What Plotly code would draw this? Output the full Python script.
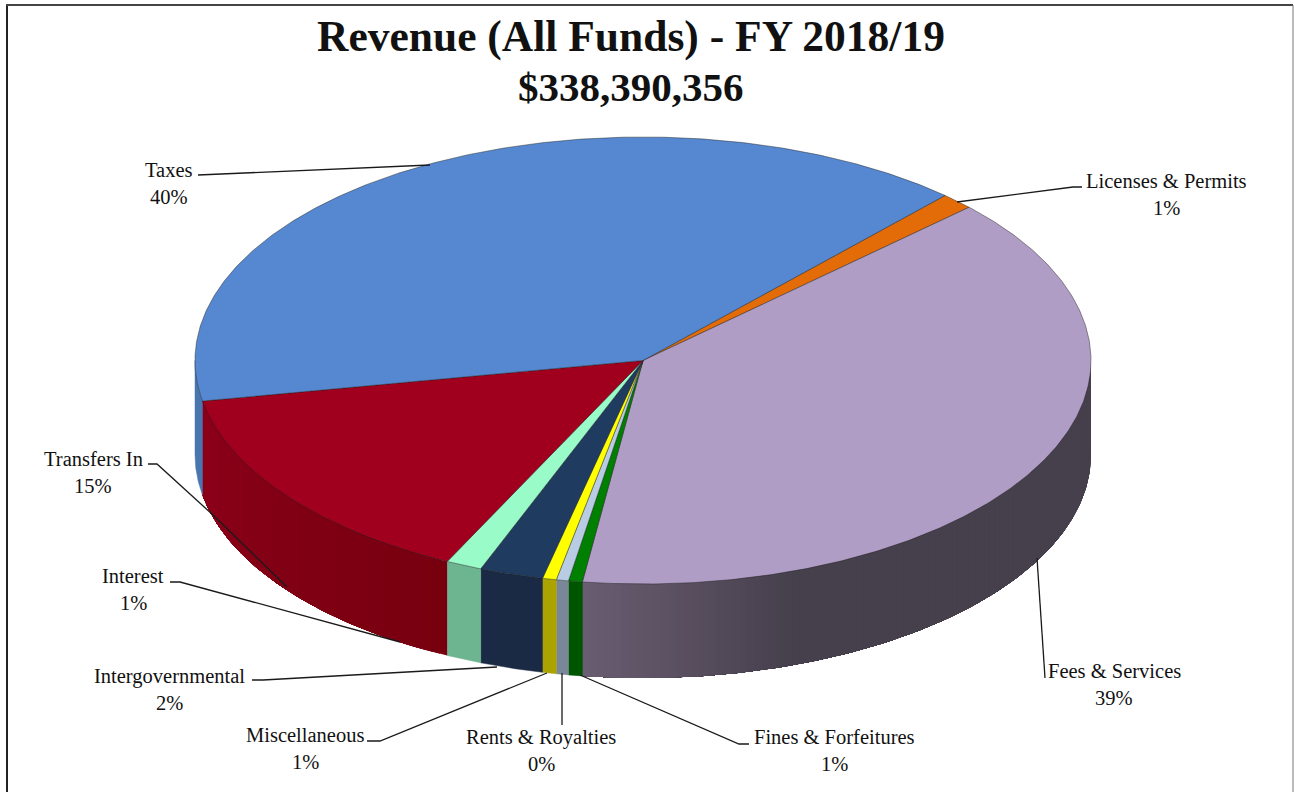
import math
import plotly.graph_objects as go

# ---- data (clockwise from the Licenses slice) ----
categories = ["Licenses & Permits", "Fees & Services", "Fines & Forfeitures", "Rents & Royalties",
              "Miscellaneous", "Intergovernmental", "Interest", "Transfers In", "Taxes"]
shares = [1.2, 39.2, 0.5, 0.44, 0.5, 2.3, 1.3, 14.9, 39.7]
percent_labels = ["1%", "39%", "1%", "0%", "1%", "2%", "1%", "15%", "40%"]
title_lines = ["Revenue (All Funds) - FY 2018/19", "$338,390,356"]

# ---- styling and layout ----
W, H = 1294, 792
CX, CY, RX, RY, DEPTH = 643, 360.5, 448, 223.5, 94
START = 42.4
top_colors = ["#e36c09", "#b09dc5", "#008000", "#b8cce4", "#ffff00", "#1f3b60", "#99fcc8", "#a0001e", "#5588d0"]
wall_colors = [("#b05407",) * 2, ("#6a5e72", "#463f4c"), ("#005500",) * 2, ("#7a8798",) * 2,
               ("#aaa300",) * 2, ("#1a2a44",) * 2, ("#6db491",) * 2, ("#77000f", "#8c0019"), ("#4a76b0",) * 2]
FEES_GRADIENT_SPAN = 28
label_xy = {"Licenses & Permits": (1166, 181), "Fees & Services": (1114, 671), "Fines & Forfeitures": (834, 737),
            "Rents & Royalties": (541, 737), "Miscellaneous": (305, 735), "Intergovernmental": (169, 676),
            "Interest": (133, 576), "Transfers In": (93, 459), "Taxes": (169, 170)}
leaders = [
    [(198, 175), (430, 165)],
    [(1082, 187), (1073, 187), (957, 202)],
    [(1037, 558), (1045, 678)],
    [(749, 744), (739, 744), (580, 675)],
    [(562, 673), (562, 725)],
    [(367, 741), (380, 741), (547, 673)],
    [(252, 680), (263, 680), (497, 667)],
    [(170, 582), (180, 582), (400, 642)],
    [(148, 464), (157, 464), (213, 515), (287, 587)],
]
FONT = "Liberation Serif"
LABEL_SIZE = 20.5
title_sizes = [43.5, 41]


def pt(theta, drop=0):
    a = math.radians(theta)
    return CX + RX * math.sin(a), CY - RY * math.cos(a) + drop


def mix(c1, c2, t):
    a = [int(c1[i:i + 2], 16) for i in (1, 3, 5)]
    b = [int(c2[i:i + 2], 16) for i in (1, 3, 5)]
    return "rgb(%d,%d,%d)" % tuple(round(p + (q - p) * t) for p, q in zip(a, b))


def arc(t0, t1, drop=0):
    n = max(2, int(abs(t1 - t0) * 2))
    return [pt(t0 + (t1 - t0) * i / n, drop) for i in range(n + 1)]


def poly(points, fill, line, width):
    xs, ys = zip(*points)
    return go.Scatter(x=list(xs) + [xs[0]], y=list(ys) + [ys[0]], mode="lines", fill="toself",
                      fillcolor=fill, line=dict(color=line, width=width), hoverinfo="skip", showlegend=False)


total = sum(shares)
edges = [START]
for s in shares:
    edges.append(edges[-1] + s / total * 360)

fig = go.Figure()

# walls (only the front half, 90..270 degrees, is visible)
for i, name in enumerate(categories):
    a, b = max(edges[i], 90), min(edges[i + 1], 270)
    if a >= b:
        continue
    c0, c1 = wall_colors[i]
    if c0 == c1:
        fig.add_trace(poly(arc(a, b) + arc(b, a, DEPTH), c0, c0, 0.5))
    else:
        # overlapping bands painted one on top of the next, so no seams show
        steps = int(b - a)
        for k in range(steps):
            t0 = a + (b - a) * k / steps
            if name == "Fees & Services":
                f = min(1, (b - t0) / FEES_GRADIENT_SPAN)
            else:
                f = (t0 - a) / (b - a)
            col = mix(c0, c1, f)
            fig.add_trace(poly(arc(t0, b) + arc(b, t0, DEPTH), col, col, 0))

# top faces
for i in range(len(categories)):
    pts = [(CX, CY)] + arc(edges[i], edges[i + 1])
    fig.add_trace(poly(pts, top_colors[i], "rgba(30,30,30,0.75)", 0.6))

# leader lines
for path in leaders:
    xs, ys = zip(*path)
    fig.add_trace(go.Scatter(x=xs, y=ys, mode="lines", line=dict(color="#1a1a1a", width=1.3),
                             hoverinfo="skip", showlegend=False))

ann = []
for name, pct in zip(categories, percent_labels):
    x, y = label_xy[name]
    ann.append(dict(x=x, y=y, text=name, showarrow=False, xanchor="center", yanchor="middle",
                    font=dict(family=FONT, size=LABEL_SIZE, color="#111111")))
    ann.append(dict(x=x, y=y + 27, text=pct, showarrow=False, xanchor="center", yanchor="middle",
                    font=dict(family=FONT, size=LABEL_SIZE, color="#111111")))
for line, y, size in zip(title_lines, (36, 87), title_sizes):
    ann.append(dict(x=631, y=y, text="<b>%s</b>" % line, showarrow=False, xanchor="center", yanchor="middle",
                    font=dict(family=FONT, size=size, color="#111111")))

fig.update_layout(
    width=W, height=H, autosize=False, margin=dict(l=0, r=0, t=0, b=0),
    paper_bgcolor="white", plot_bgcolor="white", annotations=ann,
    xaxis=dict(range=[0, W], visible=False, fixedrange=True),
    yaxis=dict(range=[H, 0], visible=False, fixedrange=True),
    shapes=[
        dict(type="line", x0=7, x1=7, y0=5, y1=H, line=dict(color="#222222", width=2)),
        dict(type="line", x0=6, x1=1293, y0=5, y1=5, line=dict(color="#444444", width=2)),
        dict(type="line", x0=1293, x1=1293, y0=5, y1=H, line=dict(color="#777777", width=1)),
    ],
)
fig.write_html("out.html", config=dict(displayModeBar=False),
               post_script="document.body.style.margin='0';document.documentElement.style.overflow='hidden';")
